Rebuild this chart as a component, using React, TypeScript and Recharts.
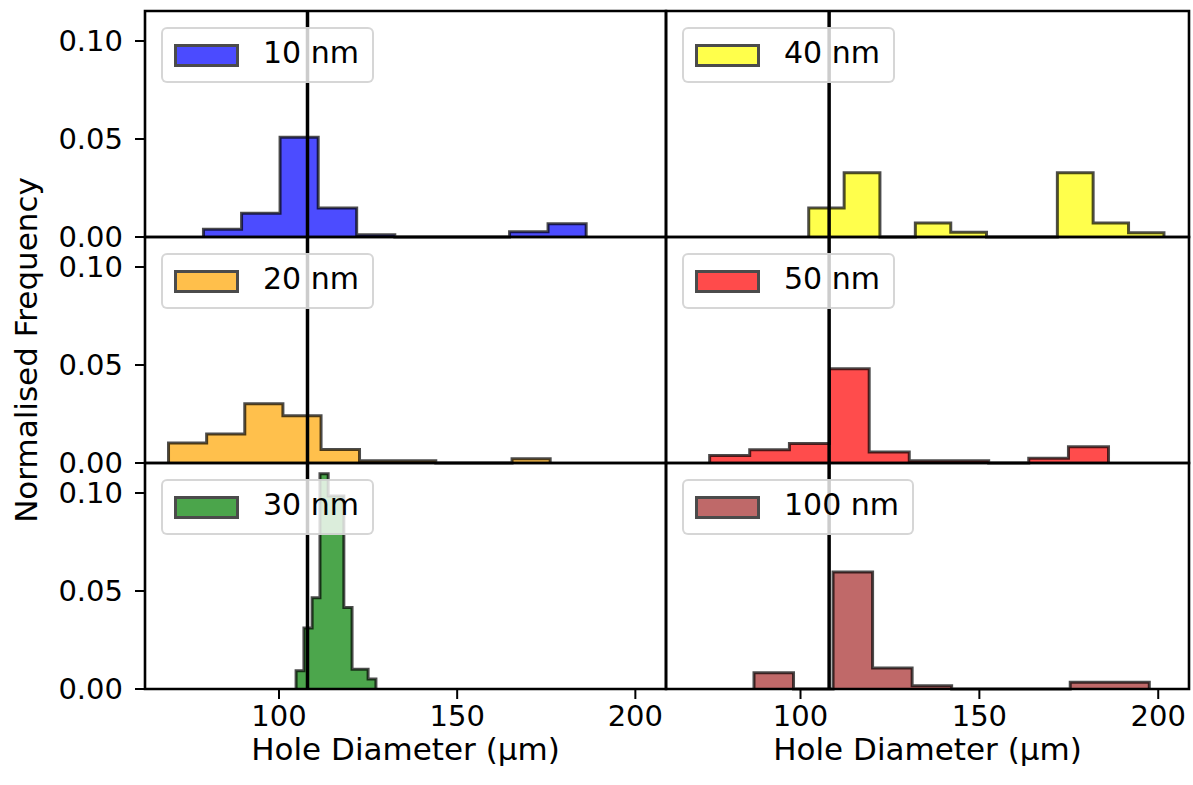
import React from 'react';
import { ComposedChart, Area, XAxis, YAxis, ReferenceLine, ReferenceArea, Legend } from 'recharts';

// ---------- data ----------
const X_DOMAIN: [number, number] = [62.4, 208.6];
const Y_DOMAIN: [number, number] = [0, 0.1153];
const X_TICKS = [100, 150, 200];
const Y_TICKS = [0, 0.05, 0.1];
const NOMINAL_DIAMETER = 108;

const X_LABEL = 'Hole Diameter (µm)';
const Y_LABEL = 'Normalised Frequency';

const NAMES = ['10 nm', '20 nm', '30 nm', '40 nm', '50 nm', '100 nm'];
const COLORS = ['#0000ff', '#ffa500', '#008000', '#ffff00', '#ff0000', '#a52a2a'];

const EDGES_10 = [78.8, 89.5, 100.3, 111.0, 121.8, 132.5, 143.2, 154.0, 164.7, 175.5, 186.2];
const FREQ_10 = [0.0039, 0.0121, 0.0509, 0.0148, 0.0012, 0, 0, 0, 0.0027, 0.0068];

const EDGES_20 = [69.0, 79.7, 90.4, 101.1, 111.8, 122.6, 133.3, 144.0, 154.7, 165.4, 176.1];
const FREQ_20 = [0.0102, 0.0148, 0.0302, 0.0241, 0.0069, 0.0012, 0.0012, 0, 0, 0.0022];

const EDGES_30 = [104.8, 107.0, 109.3, 111.5, 113.8, 116.0, 118.2, 120.5, 122.7, 125.0, 127.2];
const FREQ_30 = [0.0093, 0.0311, 0.0466, 0.1098, 0.0985, 0.0985, 0.0416, 0.0101, 0.0101, 0.0051];

const EDGES_40 = [102.3, 112.2, 122.2, 132.1, 142.0, 152.0, 161.9, 171.8, 181.8, 191.7, 201.6];
const FREQ_40 = [0.0148, 0.0328, 0, 0.0072, 0.0024, 0, 0, 0.0328, 0.0072, 0.0022];

const EDGES_50 = [74.6, 85.8, 96.9, 108.1, 119.2, 130.4, 141.5, 152.6, 163.8, 174.9, 186.1];
const FREQ_50 = [0.0038, 0.0068, 0.0099, 0.0481, 0.0056, 0.0012, 0.0012, 0, 0.0024, 0.0083];

const EDGES_100 = [87.0, 98.05, 109.1, 120.15, 131.2, 142.25, 153.3, 164.35, 175.4, 186.45, 197.5];
const FREQ_100 = [0.0083, 0, 0.0597, 0.0107, 0.0017, 0, 0, 0, 0.0034, 0.0034];

// ---------- layout ----------
const FONT = 'DejaVu Sans';
const FS = 29;
const LABEL_FS = 31;
const PLOT_TOPS = [11, 237, 463];
const PLOT_H = 226;
const COL_LEFT = [0, 521];
const PLOT_W = [521, 523];
const YAXIS_W = 145;
const TOP_M = 11;

function buildSteps(edges: number[], freq: number[]) {
  const pts: { x: number; y: number }[] = [{ x: edges[0], y: 0 }];
  freq.forEach((f, i) => pts.push({ x: edges[i], y: f }));
  pts.push({ x: edges[edges.length - 1], y: freq[freq.length - 1] });
  pts.push({ x: edges[edges.length - 1], y: 0 });
  return pts;
}

const makeLegend = (color: string) => (props: any) => {
  const item = props.payload && props.payload[0];
  return (
    <div
      style={{
        display: 'flex',
        alignItems: 'center',
        boxSizing: 'border-box',
        height: 56,
        padding: '0 13px 0 11px',
        background: 'rgba(255,255,255,0.8)',
        border: '2px solid rgba(204,204,204,0.8)',
        borderRadius: 6,
        fontFamily: FONT,
        fontSize: 30,
        color: '#000',
        whiteSpace: 'nowrap',
      }}
    >
      <div
        style={{
          boxSizing: 'border-box',
          width: 65,
          height: 23,
          background: color,
          opacity: 0.7,
          border: '3px solid #000',
        }}
      />
      <span style={{ marginLeft: 24, lineHeight: '30px', position: 'relative', top: -2 }}>{item ? item.value : ''}</span>
    </div>
  );
};

type PanelProps = { row: number; col: number; idx: number; edges: number[]; freq: number[] };

function Panel({ row, col, idx, edges, freq }: PanelProps) {
  const isBottom = row === 2;
  const bottomSpace = isBottom ? 96 : 11;
  const width = YAXIS_W + PLOT_W[col] + 3;
  const height = TOP_M + PLOT_H + bottomSpace;
  const data = buildSteps(edges, freq);
  const color = COLORS[idx];
  const showYLabel = col === 0 && row === 1;
  return (
    <div style={{ position: 'absolute', left: COL_LEFT[col], top: PLOT_TOPS[row] - TOP_M }}>
      <ComposedChart
        width={width}
        height={height}
        data={data}
        margin={{ top: TOP_M, right: 3, left: 0, bottom: isBottom ? 0 : 11 }}
      >
        <XAxis
          dataKey="x"
          type="number"
          domain={X_DOMAIN}
          ticks={X_TICKS}
          hide={!isBottom}
          height={96}
          axisLine={false}
          tickSize={10}
          tickMargin={6}
          tickLine={{ stroke: '#000', strokeWidth: 2 }}
          tick={{ fontSize: FS, fill: '#000', fontFamily: FONT }}
          interval={0}
          label={{ value: X_LABEL, position: 'insideBottom', offset: 25, fontSize: LABEL_FS, fill: '#000', fontFamily: FONT }}
        />
        <YAxis
          type="number"
          domain={Y_DOMAIN}
          ticks={Y_TICKS}
          width={YAXIS_W}
          axisLine={false}
          interval={0}
          tickSize={10}
          tickMargin={12}
          tickLine={{ stroke: '#000', strokeWidth: 2 }}
          tick={col === 0 ? { fontSize: FS, fill: '#000', fontFamily: FONT } : false}
          tickFormatter={(v: number) => v.toFixed(2)}
          label={
            showYLabel
              ? { value: Y_LABEL, angle: -90, position: 'insideLeft', offset: 26, fontSize: LABEL_FS, fill: '#000', fontFamily: FONT, style: { textAnchor: 'middle' } }
              : undefined
          }
        />
        <Area
          type="stepAfter"
          dataKey="y"
          name={NAMES[idx]}
          fill={color}
          fillOpacity={0.7}
          stroke="#000"
          strokeOpacity={0.7}
          strokeWidth={3}
          isAnimationActive={false}
          dot={false}
          activeDot={false}
        />
        <ReferenceLine x={NOMINAL_DIAMETER} stroke="#000" strokeWidth={3.5} ifOverflow="visible" />
        <ReferenceArea
          x1={X_DOMAIN[0]}
          x2={X_DOMAIN[1]}
          y1={Y_DOMAIN[0]}
          y2={Y_DOMAIN[1]}
          fill="none"
          fillOpacity={0}
          stroke="#000"
          strokeOpacity={1}
          strokeWidth={2.6}
          ifOverflow="visible"
        />
        <Legend
          layout="vertical"
          align="center"
          verticalAlign="middle"
          content={makeLegend(color)}
          wrapperStyle={{ left: YAXIS_W + 16, top: TOP_M + 16, width: 'auto', height: 'auto' }}
        />
      </ComposedChart>
    </div>
  );
}

const PANELS = [
  { row: 0, col: 0, idx: 0, edges: EDGES_10, freq: FREQ_10 },
  { row: 1, col: 0, idx: 1, edges: EDGES_20, freq: FREQ_20 },
  { row: 2, col: 0, idx: 2, edges: EDGES_30, freq: FREQ_30 },
  { row: 0, col: 1, idx: 3, edges: EDGES_40, freq: FREQ_40 },
  { row: 1, col: 1, idx: 4, edges: EDGES_50, freq: FREQ_50 },
  { row: 2, col: 1, idx: 5, edges: EDGES_100, freq: FREQ_100 },
];

export default function App() {
  return (
    <div style={{ position: 'absolute', left: 0, top: 0, width: 1193, height: 785, background: '#fff', fontFamily: FONT, overflow: 'hidden' }}>
      <style>{'.recharts-surface { overflow: visible; } .recharts-wrapper { overflow: visible; }'}</style>
      {PANELS.map((p) => (
        <Panel key={p.idx} {...p} />
      ))}
    </div>
  );
}
